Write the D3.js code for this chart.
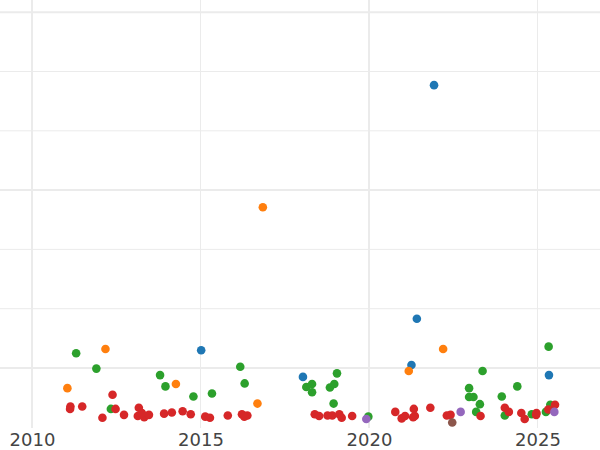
<!DOCTYPE html>
<html>
<head>
<meta charset="utf-8">
<script src="https://cdn.jsdelivr.net/npm/d3@7"></script>
<style>
  body { margin: 0; background: #fff; }
  svg { display: block; }
</style>
</head>
<body>
<div id="chart"></div>
<script>
var svgWidth = 600;
var svgHeight = 450;

// x tick labels and grid positions
var yearTicks = [2010, 2015, 2020, 2025];
var majorYears = [2010, 2020];
var valueGrid = [1, 2, 3, 4, 5, 6, 7];
var majorValues = [1, 4, 7];

// points per series: [year, value]
var blueSeries = [
  [2021.93, 5.77], [2021.42, 1.83], [2015.02, 1.30], [2018.04, 0.85],
  [2021.26, 1.05], [2025.34, 0.88]
];
var orangeSeries = [
  [2016.85, 3.71], [2012.18, 1.32], [2011.05, 0.66], [2014.27, 0.73],
  [2016.69, 0.40], [2022.20, 1.32], [2021.18, 0.95]
];
var greenSeries = [
  [2011.31, 1.25], [2011.91, 0.99], [2012.34, 0.31], [2013.80, 0.88],
  [2013.96, 0.69], [2014.79, 0.52], [2015.34, 0.57], [2016.18, 1.02],
  [2016.31, 0.74], [2018.14, 0.68], [2018.31, 0.73], [2018.31, 0.59],
  [2019.05, 0.91], [2018.84, 0.67], [2018.97, 0.73], [2018.95, 0.40],
  [2019.98, 0.18], [2023.37, 0.95], [2022.97, 0.66], [2022.97, 0.51],
  [2023.10, 0.51], [2023.29, 0.39], [2023.18, 0.26], [2025.33, 1.36],
  [2024.40, 0.69], [2023.94, 0.52], [2024.03, 0.20], [2024.83, 0.22],
  [2025.25, 0.26], [2025.38, 0.38]
];
var redSeries = [
  [2012.39, 0.55], [2011.14, 0.35], [2011.13, 0.31], [2011.49, 0.35],
  [2012.48, 0.31], [2012.09, 0.16], [2012.73, 0.21], [2013.17, 0.33],
  [2013.14, 0.19], [2013.33, 0.17], [2013.47, 0.21], [2013.26, 0.24],
  [2013.92, 0.23], [2014.15, 0.25], [2014.47, 0.27], [2014.71, 0.22],
  [2015.14, 0.18], [2015.28, 0.16], [2015.81, 0.20], [2016.23, 0.22],
  [2016.39, 0.20], [2016.30, 0.18], [2018.39, 0.22], [2018.52, 0.19],
  [2018.77, 0.20], [2018.91, 0.20], [2019.12, 0.22], [2019.19, 0.16],
  [2019.50, 0.19], [2020.78, 0.26], [2020.97, 0.15], [2021.07, 0.19],
  [2021.33, 0.31], [2021.36, 0.19], [2021.31, 0.17], [2021.82, 0.33],
  [2022.31, 0.20], [2022.42, 0.21], [2023.31, 0.19], [2024.03, 0.33],
  [2024.15, 0.26], [2024.52, 0.24], [2024.62, 0.14], [2024.96, 0.21],
  [2024.97, 0.24], [2025.32, 0.30], [2025.52, 0.38]
];
var purpleSeries = [
  [2019.92, 0.14], [2022.72, 0.26], [2025.50, 0.26]
];
var brownSeries = [
  [2022.47, 0.08]
];

var seriesList = [
  { name: "blue", color: "#1f77b4", points: blueSeries },
  { name: "orange", color: "#ff7f0e", points: orangeSeries },
  { name: "green", color: "#2ca02c", points: greenSeries },
  { name: "red", color: "#d62728", points: redSeries },
  { name: "purple", color: "#9467bd", points: purpleSeries },
  { name: "brown", color: "#8c564b", points: brownSeries }
];

var plotBottom = 428;

var svg = d3.select("#chart")
  .append("svg")
  .attr("width", svgWidth)
  .attr("height", svgHeight);

// scales: 2010 sits at x=32, 2020 at x=369
var xScale = d3.scaleLinear()
  .domain([2010, 2020])
  .range([32, 369]);

var yScale = d3.scaleLinear()
  .domain([0, 1])
  .range([427.3, 368]);

// horizontal grid
svg.append("g")
  .selectAll("line")
  .data(valueGrid)
  .enter()
  .append("line")
  .attr("x1", 0)
  .attr("x2", svgWidth)
  .attr("y1", d => yScale(d))
  .attr("y2", d => yScale(d))
  .attr("stroke", "#ebebeb")
  .attr("stroke-width", d => majorValues.includes(d) ? 2 : 1);

// vertical grid
svg.append("g")
  .selectAll("line")
  .data(yearTicks)
  .enter()
  .append("line")
  .attr("x1", d => xScale(d))
  .attr("x2", d => xScale(d))
  .attr("y1", 0)
  .attr("y2", plotBottom)
  .attr("stroke", "#ebebeb")
  .attr("stroke-width", d => majorYears.includes(d) ? 2 : 1);

// x axis labels only
var xAxis = svg.append("g")
  .attr("transform", `translate(0, ${plotBottom})`)
  .call(d3.axisBottom(xScale).tickValues(yearTicks).tickFormat(d3.format("d")).tickSize(0).tickPadding(5));

xAxis.select(".domain").remove();
xAxis.selectAll("text")
  .attr("font-family", "DejaVu Sans")
  .attr("font-size", "18px")
  .attr("fill", "#444");

// points, drawn series by series
seriesList.forEach(function(s) {
  svg.append("g")
    .selectAll("circle")
    .data(s.points)
    .enter()
    .append("circle")
    .attr("cx", d => xScale(d[0]))
    .attr("cy", d => yScale(d[1]))
    .attr("r", 4.3)
    .attr("fill", s.color);
});
</script>
</body>
</html>
